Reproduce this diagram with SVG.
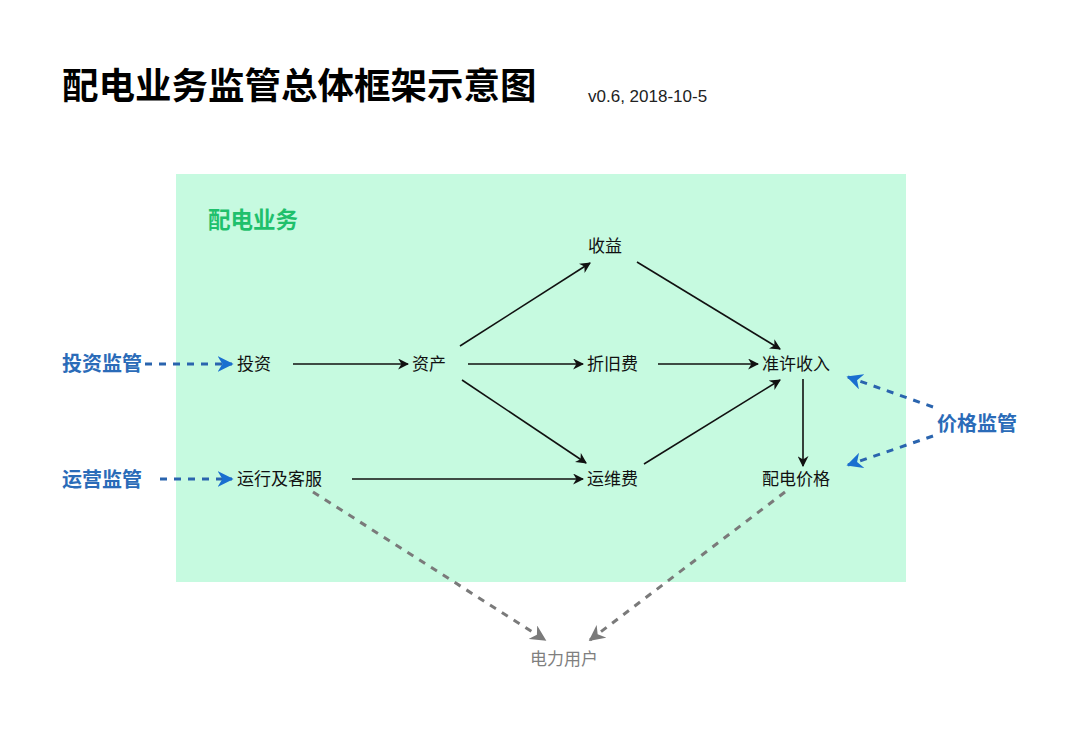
<svg xmlns="http://www.w3.org/2000/svg" width="1080" height="731" viewBox="0 0 1080 731">
<defs>
<style>
text{font-family:"Liberation Sans","Noto Sans CJK SC",sans-serif;}
.n{font-size:17px;fill:#111;}
.sup{font-size:20px;font-weight:bold;fill:#2a6bb8;}
.k{stroke:#111;stroke-width:1.6;fill:none;}
.b{stroke:#2a64ae;stroke-width:3;stroke-dasharray:7 7;fill:none;}
.g{stroke:#7a7a7a;stroke-width:3;stroke-dasharray:7 7;fill:none;}
</style>
<marker id="ak" viewBox="0 0 10 10" refX="9" refY="5" markerWidth="11" markerHeight="11" markerUnits="userSpaceOnUse" orient="auto"><path d="M0,0 L10,5 L0,10 L3,5 z" fill="#111"/></marker>
<marker id="ab" viewBox="0 0 10 10" refX="9" refY="5" markerWidth="16" markerHeight="16" markerUnits="userSpaceOnUse" orient="auto"><path d="M0,0 L10,5 L0,10 L3,5 z" fill="#1a6fd0"/></marker>
<marker id="ag" viewBox="0 0 10 10" refX="9" refY="5" markerWidth="16" markerHeight="16" markerUnits="userSpaceOnUse" orient="auto"><path d="M0,0 L10,5 L0,10 L3,5 z" fill="#7a7a7a"/></marker>
</defs>
<rect width="1080" height="731" fill="#ffffff"/>
<g id="title">
<text x="62" y="99" style="font-size:36.5px;font-weight:bold;fill:#000;">配电业务监管总体框架示意图</text>
<text x="588" y="102" style="font-size:17px;fill:#222;">v0.6, 2018-10-5</text>
</g>
<g id="business">
<rect x="176" y="174" width="730" height="408" fill="#c6fae0"/>
<text x="208" y="228" style="font-size:22.5px;font-weight:bold;fill:#1fc06c;">配电业务</text>
</g>
<g id="connectors">
<line class="b" x1="145" y1="364" x2="232" y2="364" marker-end="url(#ab)"/>
<line class="b" x1="160" y1="479" x2="232" y2="479" marker-end="url(#ab)"/>
<line class="b" x1="933" y1="407" x2="848" y2="377" marker-end="url(#ab)"/>
<line class="b" x1="933" y1="436" x2="848" y2="465" marker-end="url(#ab)"/>
<line class="k" x1="293" y1="364" x2="408" y2="364" marker-end="url(#ak)"/>
<line class="k" x1="460" y1="346" x2="590" y2="263" marker-end="url(#ak)"/>
<line class="k" x1="468" y1="364" x2="583" y2="364" marker-end="url(#ak)"/>
<line class="k" x1="462" y1="380" x2="586" y2="463" marker-end="url(#ak)"/>
<line class="k" x1="637" y1="262" x2="780" y2="349" marker-end="url(#ak)"/>
<line class="k" x1="658" y1="364" x2="758" y2="364" marker-end="url(#ak)"/>
<line class="k" x1="644" y1="464" x2="780" y2="380" marker-end="url(#ak)"/>
<line class="k" x1="803" y1="379" x2="803" y2="466" marker-end="url(#ak)"/>
<line class="k" x1="352" y1="479" x2="583" y2="479" marker-end="url(#ak)"/>
<line class="g" x1="313" y1="492" x2="545" y2="640" marker-end="url(#ag)"/>
<line class="g" x1="785" y1="492" x2="590" y2="640" marker-end="url(#ag)"/>
</g>
<g id="n-invsup"><text class="sup" x="62" y="371">投资监管</text></g>
<g id="n-opsup"><text class="sup" x="62" y="487">运营监管</text></g>
<g id="n-pricesup"><text class="sup" x="937" y="431">价格监管</text></g>
<g id="n-shouyi"><text class="n" x="588" y="252">收益</text></g>
<g id="n-touzi"><text class="n" x="237" y="370">投资</text></g>
<g id="n-zichan"><text class="n" x="412" y="370">资产</text></g>
<g id="n-zhejiu"><text class="n" x="587" y="370">折旧费</text></g>
<g id="n-zhunxu"><text class="n" x="762" y="370">准许收入</text></g>
<g id="n-yunxing"><text class="n" x="237" y="485">运行及客服</text></g>
<g id="n-yunwei"><text class="n" x="587" y="485">运维费</text></g>
<g id="n-price"><text class="n" x="762" y="485">配电价格</text></g>
<g id="n-user"><text x="530" y="665" style="font-size:17px;fill:#7f7f7f;">电力用户</text></g>
</svg>
